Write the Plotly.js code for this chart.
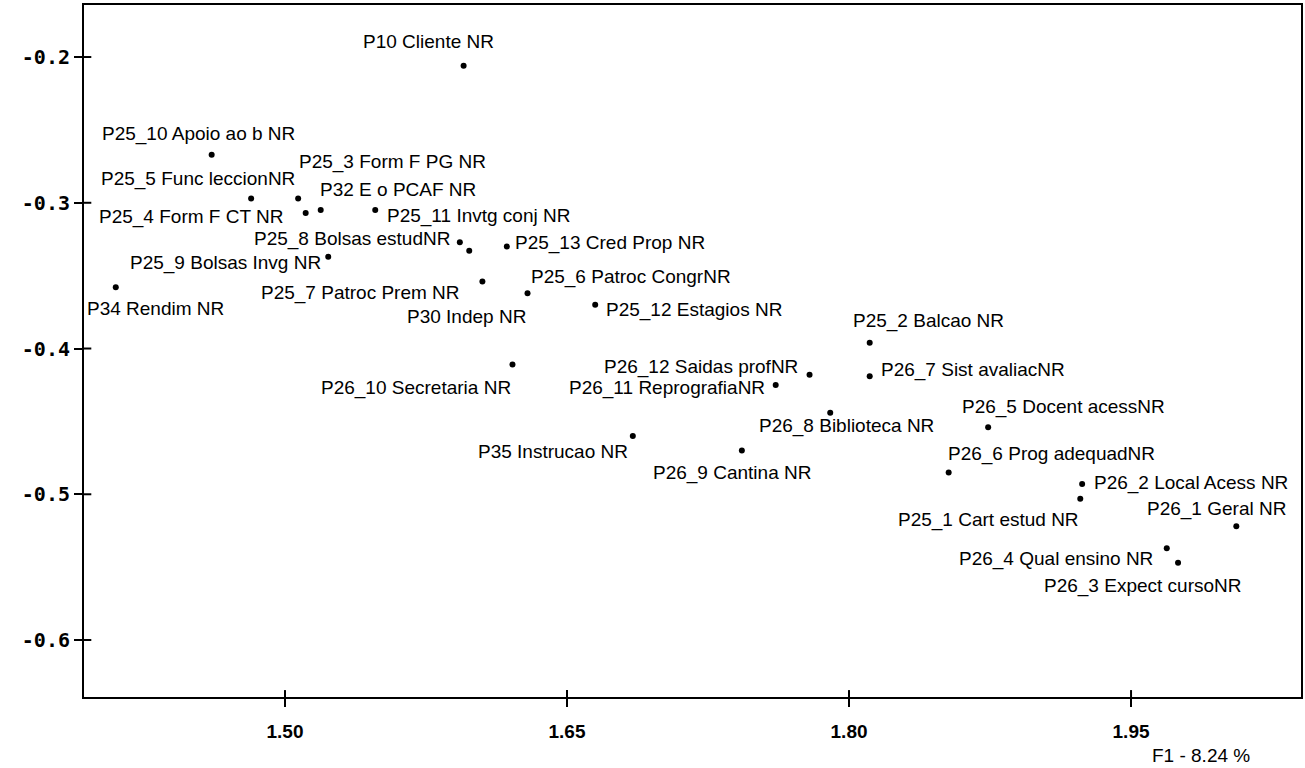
<!DOCTYPE html>
<html>
<head>
<meta charset="utf-8">
<script src="https://cdn.plot.ly/plotly-3.0.1.min.js"></script>
<style>
html,body{margin:0;padding:0;background:#fff;}
#chart{width:1305px;height:768px;}
</style>
</head>
<body>
<div id="chart"></div>
<script>
// ---- data ----
const labels = [
  "P10 Cliente NR","P25_10 Apoio ao b NR","P25_5 Func leccionNR","P25_3 Form F PG NR",
  "P25_4 Form F CT NR","P32 E o PCAF NR","P25_11 Invtg conj NR","P25_8 Bolsas estudNR",
  "P25_13 Cred Prop NR","P25_9 Bolsas Invg NR","P34 Rendim NR","P25_7 Patroc Prem NR",
  "P30 Indep NR","P25_6 Patroc CongrNR","P25_12 Estagios NR","P26_10 Secretaria NR",
  "P25_2 Balcao NR","P26_7 Sist avaliacNR","P26_12 Saidas profNR","P26_11 ReprografiaNR",
  "P26_8 Biblioteca NR","P35 Instrucao NR","P26_9 Cantina NR","P26_5 Docent acessNR",
  "P26_6 Prog adequadNR","P26_2 Local Acess NR","P25_1 Cart estud NR","P26_1 Geral NR",
  "P26_4 Qual ensino NR","P26_3 Expect cursoNR"
];
const f1 = [
  1.595, 1.461, 1.482, 1.507,
  1.511, 1.519, 1.548, 1.593,
  1.618, 1.523, 1.410, 1.605,
  1.598, 1.629, 1.665, 1.621,
  1.811, 1.811, 1.779, 1.761,
  1.790, 1.685, 1.743, 1.874,
  1.853, 1.924, 1.923, 2.006,
  1.969, 1.975
];
const f2 = [
  -0.206, -0.267, -0.297, -0.297,
  -0.307, -0.305, -0.305, -0.327,
  -0.330, -0.337, -0.358, -0.354,
  -0.333, -0.362, -0.370, -0.411,
  -0.396, -0.419, -0.418, -0.425,
  -0.444, -0.460, -0.470, -0.454,
  -0.485, -0.493, -0.503, -0.522,
  -0.537, -0.547
];
const xTickVals = [1.50, 1.65, 1.80, 1.95];
const xTickText = ["1.50", "1.65", "1.80", "1.95"];
const yTickVals = [-0.2, -0.3, -0.4, -0.5, -0.6];
const yTickText = ["-0.2", "-0.3", "-0.4", "-0.5", "-0.6"];
const xTitle = "F1 - 8.24 %";

// ---- label placement (pixel offsets of label centre from its point) ----
const labelOffsets = [
  [-35,-24],[-13,-21],[-53,-19],[94,-36],
  [-115,4],[77,-21],[103,6],[-108,-3],
  [103,-4],[-103,6],[40,21],[-122,12],
  [-3,66],[103,-16],[99,5],[-96,23],
  [59,-22],[103,-6],[-109,-8],[-109,3],
  [16,13],[-80,16],[-10,22],[75,-20],
  [103,-18],[109,-1],[-92,21],[-20,-17],
  [-111,11],[-35,23]
];

const labelFont = {family: "Liberation Sans, Arial, sans-serif", size: 19, color: "#000"};
const annotations = labels.map((t, i) => ({
  x: f1[i], y: f2[i], xref: "x", yref: "y",
  text: t, showarrow: false,
  xanchor: "center", yanchor: "middle",
  xshift: labelOffsets[i][0], yshift: -labelOffsets[i][1],
  font: labelFont
}));
annotations.push({
  xref: "paper", yref: "paper", x: 0.918, y: -0.084,
  xanchor: "center", yanchor: "middle", showarrow: false,
  text: xTitle,
  font: {family: "Liberation Sans Narrow, Liberation Sans, Arial, sans-serif", size: 19, color: "#000"}
});

// inner halves of the crossing tick marks
const shapes = [];
yTickVals.forEach(v => shapes.push({type: "line", xref: "paper", yref: "y", x0: 0, x1: 0.006, y0: v, y1: v, line: {color: "#000", width: 2}}));
xTickVals.forEach(v => shapes.push({type: "line", xref: "x", yref: "paper", x0: v, x1: v, y0: 0, y1: 0.01, line: {color: "#000", width: 2}}));

const trace = {
  type: "scatter", mode: "markers",
  x: f1, y: f2, text: labels,
  marker: {color: "#000", size: 6},
  hoverinfo: "text"
};

const layout = {
  width: 1305, height: 768,
  margin: {l: 84, r: 4, t: 5, b: 71},
  paper_bgcolor: "#fff", plot_bgcolor: "#fff",
  showlegend: false,
  xaxis: {
    range: [1.3931, 2.0404],
    tickvals: xTickVals, ticktext: xTickText,
    ticks: "outside", ticklen: 8, tickwidth: 2, tickcolor: "#000",
    ticklabelstandoff: 8,
    showgrid: false, zeroline: false,
    showline: true, mirror: true, linecolor: "#000", linewidth: 2,
    tickfont: {family: "Liberation Sans Narrow, Liberation Sans, Arial, sans-serif", size: 19, color: "#000", weight: "bold"}
  },
  yaxis: {
    range: [-0.6391, -0.1643],
    tickvals: yTickVals, ticktext: yTickText,
    ticks: "outside", ticklen: 8, tickwidth: 2, tickcolor: "#000",
    showgrid: false, zeroline: false,
    showline: true, mirror: true, linecolor: "#000", linewidth: 2,
    tickfont: {family: "DejaVu Sans Mono, monospace", size: 20, color: "#000", weight: "bold"}
  },
  shapes: shapes,
  annotations: annotations
};

Plotly.newPlot("chart", [trace], layout, {displayModeBar: false, staticPlot: true});
</script>
</body>
</html>
